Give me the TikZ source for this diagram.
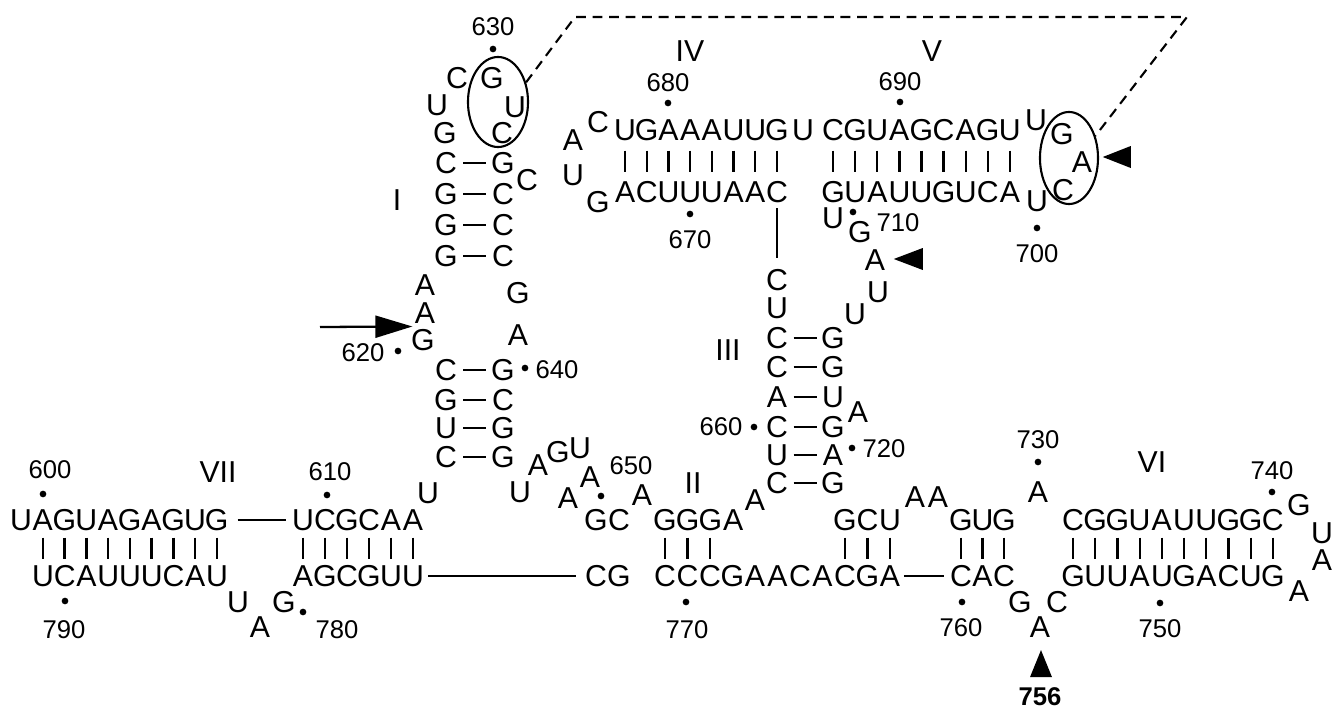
\documentclass[tikz,border=0pt]{standalone}
\usepackage{fontspec}
\setmainfont{Liberation Sans}
\usetikzlibrary{arrows.meta, positioning, calc, shapes.geometric}

\begin{document}
\begin{tikzpicture}[
      x=0.01cm, y=-0.01cm,
      nt/.style={inner sep=0pt, font=\fontsize{8.6}{10}\selectfont},
      stemlbl/.style={inner sep=0pt, font=\fontsize{8.6}{10}\selectfont},
      num/.style={inner sep=0pt, font=\fontsize{7.3}{8}\selectfont},
      dot/.style={circle, fill=black, inner sep=0pt, minimum size=1.9pt},
      pair/.style={line width=0.65pt},
      link/.style={line width=0.65pt},
      loopmark/.style={ellipse, draw, line width=0.6pt, inner sep=0pt},
      tether/.style={line width=0.6pt, dash pattern=on 2.8pt off 1.9pt},
      cutmark/.style={fill=black},
      arrow/.style={-{Triangle[length=3.7mm, width=2.2mm]}, line width=0.65pt}
  ]
      \useasboundingbox (0,0) rectangle (1332,706);
      % helix VII, 5' side
      \foreach \s [count=\i from 599] in {U,A,G,U,A,G,A,G,U,G}
          \node[nt] (n\i) at ({21+21.75*(\i-599)},520) {\s};
      \foreach \s [count=\i from 609] in {U,C,G,C,A,A}
          \node[nt] (n\i) at ({303+22*(\i-609)},520) {\s};
      % stem I
      \node[nt] (n615) at (428,493) {U};
      \foreach \s/\y [count=\i from 616] in {C/457,U/428,G/400,C/370}
          \node[nt] (n\i) at (446,\y) {\s};
      \node[nt] (n620) at (423,340) {G};
      \node[nt] (n621) at (425,313) {A};
      \node[nt] (n622) at (425,285) {A};
      \foreach \s/\y [count=\i from 623] in {G/256,G/225,G/194,C/163}
          \node[nt] (n\i) at (446,\y) {\s};
      \node[nt] (n627) at (445,133) {G};
      \node[nt] (n628) at (437,105) {U};
      \node[nt] (n629) at (457,78) {C};
      \node[nt] (n630) at (492,78) {G};
      \node[nt] (n631) at (515,107) {U};
      \node[nt] (n632) at (502,133) {C};
      \node[nt] (n633) at (503,163) {G};
      \node[nt] (n634) at (527,180) {C};
      \foreach \s/\y [count=\i from 635] in {C/194,C/225,C/256}
          \node[nt] (n\i) at (503,\y) {\s};
      \node[nt] (n638) at (518,293) {G};
      \node[nt] (n639) at (518,335) {A};
      \foreach \s/\y [count=\i from 640] in {G/370,C/400,G/428,G/457}
          \node[nt] (n\i) at (503,\y) {\s};
      % junction I / II
      \node[nt] (n644) at (520,492) {U};
      \node[nt] (n645) at (538,465) {A};
      \node[nt] (n646) at (558,452) {G};
      \node[nt] (n647) at (580,448) {U};
      \node[nt] (n648) at (590,477) {A};
      \node[nt] (n649) at (568,498) {A};
      \node[nt] (n650) at (596,520) {G};
      \node[nt] (n651) at (619,520) {C};
      \node[nt] (n652) at (642,495) {A};
      \foreach \s [count=\i from 653] in {G,G,G,A}
          \node[nt] (n\i) at ({665+22.7*(\i-653)},520) {\s};
      \node[nt] (n657) at (755,500) {A};
      % stem III, 5' side
      \foreach \s/\y [count=\i from 658] in {C/483,U/455,C/427,A/397,C/367,C/338,U/308,C/280}
          \node[nt] (n\i) at (777,\y) {\s};
      % helix IV
      \foreach \s [count=\i from 666] in {C,A,A,U,U,U,C,A}
          \node[nt] (n\i) at ({777-21.7*(\i-666)},192) {\s};
      \node[nt] (n674) at (598,202) {G};
      \node[nt] (n675) at (573,175) {U};
      \node[nt] (n676) at (573,140) {A};
      \node[nt] (n677) at (598,122) {C};
      \foreach \s [count=\i from 678] in {U,G,A,A,A,U,U,G}
          \node[nt] (n\i) at ({625+21.7*(\i-678)},130) {\s};
      \node[nt] (n686) at (803,130) {U};
      % helix V
      \foreach \s [count=\i from 687] in {C,G,U,A,G,C,A,G,U}
          \node[nt] (n\i) at ({833+22.1*(\i-687)},130) {\s};
      \node[nt] (n696) at (1036,120) {U};
      \node[nt] (n697) at (1062,134) {G};
      \node[nt] (n698) at (1082,162) {A};
      \node[nt] (n699) at (1063,190) {C};
      \node[nt] (n700) at (1037,201) {U};
      \foreach \s [count=\i from 701] in {A,C,U,G,U,U,A,U,G}
          \node[nt] (n\i) at ({1010-22.1*(\i-701)},192) {\s};
      \node[nt] (n710) at (833,218) {U};
      \node[nt] (n711) at (860,232) {G};
      \node[nt] (n712) at (875,260) {A};
      \node[nt] (n713) at (878,292) {U};
      \node[nt] (n714) at (855,314) {U};
      % stem III, 3' side
      \foreach \s/\y [count=\i from 715] in {G/338,G/367,U/397,G/427}
          \node[nt] (n\i) at (833,\y) {\s};
      \node[nt] (n719) at (858,412) {A};
      \node[nt] (n720) at (833,455) {A};
      \node[nt] (n721) at (833,483) {G};
      % upper strand to helix VI
      \foreach \s [count=\i from 722] in {G,C,U}
          \node[nt] (n\i) at ({845+22.5*(\i-722)},520) {\s};
      \node[nt] (n725) at (915,497) {A};
      \node[nt] (n726) at (938,497) {A};
      \foreach \s [count=\i from 727] in {G,U,G}
          \node[nt] (n\i) at ({961+21.5*(\i-727)},520) {\s};
      \node[nt] (n730) at (1038,492) {A};
      \foreach \s [count=\i from 731] in {C,G,G,U,A,U,U,G,G,C}
          \node[nt] (n\i) at ({1073+22.2*(\i-731)},520) {\s};
      \node[nt] (n741) at (1299,505) {G};
      \node[nt] (n742) at (1322,533) {U};
      \node[nt] (n743) at (1322,560) {A};
      \node[nt] (n744) at (1299,591) {A};
      % lower strand back to 3' end
      \foreach \s [count=\i from 745] in {G,U,C,A,G,U,A,U,U,G}
          \node[nt] (n\i) at ({1273-22.2*(\i-745)},576) {\s};
      \node[nt] (n755) at (1057,602) {C};
      \node[nt] (n756) at (1040,627) {A};
      \node[nt] (n757) at (1020,602) {G};
      \foreach \s [count=\i from 758] in {C,A,C}
          \node[nt] (n\i) at ({1004-21.5*(\i-758)},576) {\s};
      \foreach \s [count=\i from 761] in {A,G,C,A,C,A,A,G,C,C,C}
          \node[nt] (n\i) at ({890-22.5*(\i-761)},576) {\s};
      \node[nt] (n772) at (619,576) {G};
      \node[nt] (n773) at (596,576) {C};
      \foreach \s [count=\i from 774] in {U,U,G,C,G,A}
          \node[nt] (n\i) at ({413-22*(\i-774)},576) {\s};
      \node[nt] (n780) at (284,602) {G};
      \node[nt] (n781) at (260,627) {A};
      \node[nt] (n782) at (238,602) {U};
      \foreach \s [count=\i from 783] in {U,A,C,U,U,U,A,C,U}
          \node[nt] (n\i) at ({217-21.75*(\i-783)},576) {\s};
      % base pairs
      \foreach \a/\z/\k in {600/608/1391, 609/614/1388, 653/655/1424, 678/685/1351, 687/695/1396, 722/724/1485, 727/729/1487, 731/740/1485}
          \foreach \i in {\a,...,\z} {
              \pgfmathtruncatemacro\p{\k-\i}
              \draw[pair] ($(n\i)!.5!(n\p)$) +(0,-10.5) -- +(0,10.5);
          }
      \foreach \i/\p in {616/643,617/642,618/641,619/640,623/637,624/636,625/635,626/633,658/721,659/720,660/718,661/717,662/716,663/715}
          \draw[pair] ($(n\i)!.5!(n\p)$) +(-11.5,0) -- +(11.5,0);
      % backbone links
      \draw[link, shorten <=2.4pt, shorten >=1.4pt] (n608) -- (n609);
      \draw[link, shorten <=1.1pt, shorten >=2.3pt] (n774) -- (n773);
      \draw[link, shorten <=0.9pt, shorten >=1.4pt] (n761) -- (n760);
      \draw[link, shorten <=1.4pt, shorten >=3.1pt] (n666) -- (n665);
      % numbering
      \foreach \k/\dx/\dy/\lx/\ly in {600/43/494/50/470, 610/327/495/330/472, 620/398/351/363/353, 630/493/49/493/27, 640/525/368/557/370, 650/601/496/631/466, 660/754/427/721/427, 670/690/214/690/240, 680/668/103/668/83, 690/900/102/900/82, 700/1037/228/1037/254, 710/853/212/898/223, 720/852/448/884/449, 730/1038/462/1038/440, 740/1272/492/1272/471, 750/1160/603/1160/629, 760/962/602/961/628, 770/686/602/687/630, 780/303/612/337/630, 790/65/601/64/630}
      {
          \node[dot] (d\k) at (\dx,\dy) {};
          \node[num] (l\k) at (\lx,\ly) {\k};
      }
      % helix names
      \node[stemlbl] (sI) at (397,200) {I};
      \node[stemlbl] (sII) at (693,483) {II};
      \node[stemlbl] (sIII) at (728,350) {III};
      \node[stemlbl] (sIV) at (690,51) {IV};
      \node[stemlbl] (sV) at (932,51) {V};
      \node[stemlbl] (sVI) at (1152,462) {VI};
      \node[stemlbl] (sVII) at (218,472) {VII};
      % ringed loops and tether
      \node[loopmark, minimum width=0.6cm, minimum height=0.9cm] (e630) at (498,102) {};
      \node[loopmark, minimum width=0.58cm, minimum height=0.92cm] (e698) at (1069,158) {};
      \coordinate (tetherL) at (575,17);
      \coordinate (tetherR) at (1187,17);
      \draw[tether] (e630.35) -- (tetherL) -- (tetherR) -- (e698.40);
      % arrow and cleavage marks
      \coordinate (arrowtail) at (320,327);
      \draw[arrow] (arrowtail) -- ($(n620.west)!.5!(n621.west)$);
      \fill[cutmark] ($(n712.east)+(8,-1)$) -- ++(29,-11) -- ++(0,22) -- cycle;
      \fill[cutmark] ($(n698.east)+(10,-5)$) -- ++(28,-11) -- ++(0,22) -- cycle;
      \fill[cutmark] ($(n756.south)+(1,12)$) -- ++(-11,27) -- ++(22,0) -- cycle;
      \node[font=\bfseries\fontsize{7.3}{8}\selectfont, inner sep=0pt] (l756) at (1040,697) {756};
  \end{tikzpicture}
\end{document}
